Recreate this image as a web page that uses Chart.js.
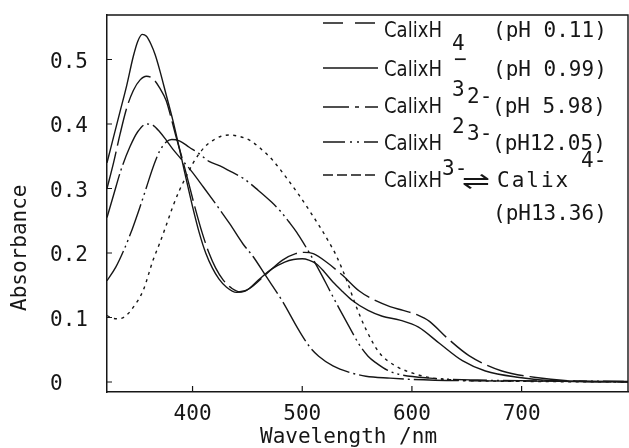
<!DOCTYPE html>
<html><head><meta charset="utf-8">
<script src="https://cdn.jsdelivr.net/npm/chart.js@4/dist/chart.umd.min.js"></script>
<style>html,body{margin:0;padding:0;background:#fff;}#wrap{position:relative;width:629px;height:448px;}</style>
</head><body><div id="wrap"><canvas id="c" width="629" height="448"></canvas></div>
<script>
// ---- data ----
const wlH4  = [322,328,334,340,346,352,358,364,370,376,381,385,390,395,402,409,415,421,428,436,443,452,467,482,494,502,510,522,537,552,567,580,592,605,616,631,652,682,713,743,797];
const absH4 = [0.300,0.340,0.385,0.425,0.452,0.468,0.474,0.470,0.456,0.436,0.406,0.380,0.350,0.318,0.272,0.230,0.200,0.177,0.158,0.145,0.140,0.145,0.167,0.189,0.199,0.201,0.199,0.186,0.165,0.141,0.126,0.117,0.111,0.104,0.094,0.070,0.041,0.017,0.007,0.002,0.000];

const wlH3  = [322,328,334,340,346,350,354,358,362,366,370,376,382,388,394,400,406,412,418,424,431,440,448,460,472,484,492,500,506,513,520,528,537,546,560,573,589,606,625,646,667,698,728,797];
const absH3 = [0.340,0.380,0.420,0.460,0.505,0.528,0.539,0.536,0.524,0.507,0.484,0.445,0.406,0.362,0.316,0.272,0.232,0.200,0.177,0.160,0.147,0.139,0.141,0.158,0.175,0.186,0.190,0.191,0.189,0.183,0.171,0.155,0.140,0.126,0.111,0.102,0.096,0.085,0.060,0.033,0.017,0.007,0.002,0.000];

const wlH2  = [322,328,335,343,350,358,364,370,376,382,390,399,410,422,434,446,455,467,482,497,507,515,528,543,558,580,600,650,797];
const absH2 = [0.255,0.290,0.330,0.365,0.388,0.400,0.398,0.388,0.375,0.361,0.345,0.327,0.302,0.274,0.245,0.214,0.195,0.164,0.125,0.080,0.054,0.040,0.025,0.015,0.009,0.006,0.004,0.002,0.001];

const wlH1  = [322,330,337,345,352,358,364,370,376,381,388,397,406,415,425,435,446,460,472,480,488,495,502,510,518,525,534,543,552,560,567,578,588,616,660,797];
const absH1 = [0.157,0.178,0.203,0.237,0.271,0.302,0.333,0.358,0.372,0.376,0.374,0.364,0.354,0.342,0.335,0.326,0.316,0.297,0.279,0.265,0.248,0.232,0.213,0.190,0.165,0.142,0.113,0.085,0.058,0.040,0.030,0.018,0.012,0.006,0.003,0.001];

const wlC   = [322,327,332,338,346,355,364,370,376,382,388,394,400,406,412,419,426,434,442,452,462,473,485,497,508,517,524,531,540,549,558,570,585,604,616,640,700,797];
const absC  = [0.103,0.099,0.098,0.101,0.116,0.142,0.189,0.215,0.243,0.272,0.297,0.318,0.338,0.354,0.366,0.375,0.381,0.383,0.381,0.375,0.362,0.344,0.318,0.290,0.262,0.238,0.218,0.196,0.160,0.118,0.082,0.046,0.025,0.012,0.007,0.003,0.001,0.000];

const xTickValues = [400, 500, 600, 700];
const yTickValues = [0, 0.1, 0.2, 0.3, 0.4, 0.5];
const seriesLabels = ['CalixH4 (pH 0.11)', 'CalixH3- (pH 0.99)', 'CalixH2 2- (pH 5.98)', 'CalixH 3- (pH12.05)', 'CalixH3- \u21CC Calix4- (pH13.36)'];

// ---- styling ----
const FONT = '"DejaVu Sans Mono", monospace';
const INK = '#161616';
const tickFont = {family: FONT, size: 21};

function pts(wl, ab) { return wl.map((w, i) => ({x: w, y: ab[i]})); }

const datasets = [
  {label: seriesLabels[0], data: pts(wlH4, absH4), borderDash: [38, 6]},
  {label: seriesLabels[1], data: pts(wlH3, absH3), borderDash: []},
  {label: seriesLabels[2], data: pts(wlH2, absH2), borderDash: [45, 4, 2, 4]},
  {label: seriesLabels[3], data: pts(wlH1, absH1), borderDash: [34, 4, 2, 4, 2, 4]},
  {label: seriesLabels[4], data: pts(wlC, absC), borderDash: [3, 4.5]}
].map(d => Object.assign({
  borderColor: INK, borderWidth: 1.4, pointRadius: 0, fill: false,
  cubicInterpolationMode: 'monotone'
}, d));

const framePlugin = {
  id: 'frame',
  afterDraw(chart) {
    const ctx = chart.ctx;
    const a = chart.chartArea;
    const xs = chart.scales.x, ys = chart.scales.y;
    ctx.save();
    ctx.strokeStyle = INK;
    ctx.lineWidth = 1.4;
    // top and right frame
    ctx.beginPath();
    ctx.moveTo(a.left, a.top); ctx.lineTo(a.right, a.top); ctx.lineTo(a.right, a.bottom);
    ctx.stroke();
    // inward ticks
    ctx.lineWidth = 1.2;
    ctx.beginPath();
    yTickValues.forEach(v => { const y = ys.getPixelForValue(v); ctx.moveTo(a.left, y); ctx.lineTo(a.left + 5, y); });
    xTickValues.forEach(v => { const x = xs.getPixelForValue(v); ctx.moveTo(x, a.bottom); ctx.lineTo(x, a.bottom - 6); });
    ctx.stroke();

    // legend samples
    const samples = [[23, [20, 12]], [68, []], [107, [26, 6, 4, 6]], [142, [22, 5, 2, 5, 2, 5]], [175, [10, 4]]];
    ctx.lineWidth = 1.5;
    samples.forEach(([y, d]) => { ctx.setLineDash(d); ctx.beginPath(); ctx.moveTo(323, y); ctx.lineTo(378, y); ctx.stroke(); });
    ctx.setLineDash([]);

    // legend text
    ctx.fillStyle = INK;
    ctx.textAlign = 'left';
    ctx.textBaseline = 'alphabetic';
    ctx.font = '21px ' + FONT;
    const narrow = (s, x, y) => {
      ctx.save(); ctx.font = '21px "DejaVu Sans", sans-serif';
      ctx.translate(x, y); ctx.scale(0.86, 1); ctx.fillText(s, 0, 0); ctx.restore();
    };
    const spaced = (s, x, y, ls) => { ctx.letterSpacing = ls; ctx.fillText(s, x, y); ctx.letterSpacing = '0px'; };
    const t = (s, x, y) => ctx.fillText(s, x, y);
    // row 1
    narrow('CalixH', 384, 37); t('4', 452, 50); t('(pH 0.11)', 493, 37);
    // row 2
    narrow('CalixH', 384, 76); t('3', 452, 96); t('\u2212', 454, 66); t('(pH 0.99)', 493, 76);
    // row 3
    narrow('CalixH', 384, 113); t('2', 452, 133); t('2-', 467, 103); t('(pH 5.98)', 492, 113);
    // row 4
    narrow('CalixH', 384, 150); t('3-', 467, 140); t('(pH12.05)', 492, 150);
    // row 5
    narrow('CalixH', 384, 187); t('3-', 442, 175);
    ctx.save(); ctx.font = '24px "DejaVu Sans", sans-serif'; ctx.translate(462, 189); ctx.scale(1.4, 1); ctx.fillText('\u21CC', 0, 0); ctx.restore();
    spaced('Calix', 497, 187, '2px'); t('4-', 581, 167);
    // row 6
    t('(pH13.36)', 493, 220);
    ctx.restore();
  }
};

new Chart(document.getElementById('c'), {
  type: 'line',
  data: {datasets},
  options: {
    responsive: false, animation: false, devicePixelRatio: 1,
    layout: {padding: {top: 15, right: 1, left: 0, bottom: 0}},
    plugins: {legend: {display: false}, tooltip: {enabled: false}},
    scales: {
      x: {
        type: 'linear', min: 322, max: 797, position: 'bottom',
        grid: {display: false, drawTicks: false},
        border: {display: true, color: INK, width: 1.5},
        ticks: {font: tickFont, color: INK, padding: 10, maxRotation: 0, callback: v => String(v)},
        afterBuildTicks: s => { s.ticks = xTickValues.map(v => ({value: v})); },
        afterFit: s => { s.height = 56; },
        title: {display: true, text: 'Wavelength /nm   ', font: tickFont, color: INK, padding: {top: 0, bottom: -2}}
      },
      y: {
        type: 'linear', min: -0.0155, max: 0.569,
        grid: {display: false, drawTicks: true, tickLength: 19},
        border: {display: true, color: INK, width: 1.5},
        ticks: {font: tickFont, color: INK, padding: 0, labelOffset: 3, callback: v => (v === 0 ? '0  ' : v.toFixed(1))},
        afterBuildTicks: s => { s.ticks = yTickValues.map(v => ({value: v})); },
        afterFit: s => { s.width = 107; },
        title: {display: true, text: 'Absorbance       ', font: tickFont, color: INK, padding: {top: 8, bottom: 0}}
      }
    }
  },
  plugins: [framePlugin]
});
</script></body></html>
